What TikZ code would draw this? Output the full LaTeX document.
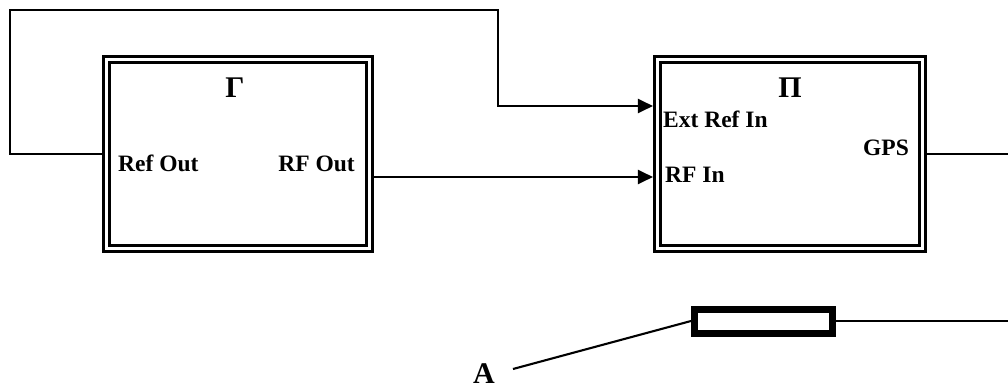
\documentclass[tikz,border=0pt]{standalone}
\usepackage{fontspec}
\setmainfont{Liberation Serif}
\usetikzlibrary{arrows.meta}
\tikzset{
  dbox/.style={draw, rectangle, line width=2.6pt, double, double distance=3.4pt, outer sep=4.3pt, inner sep=0pt},
  lbl/.style={inner sep=0pt, font=\fontsize{23.5}{28}\selectfont\bfseries},
  big/.style={inner sep=0pt, font=\fontsize{30}{34}\selectfont\bfseries},
  wire/.style={line width=2.1pt},
  arr/.style={wire, -{Triangle[length=15pt,width=14pt]}},
}
\begin{document}
\begin{tikzpicture}[x=1pt,y=-1pt]
\useasboundingbox (0,0) rectangle (1008,385);
\node[dbox, minimum width=263.5pt, minimum height=189.5pt] (g) at (238,154) {};
\node[dbox, minimum width=265.5pt, minimum height=189.5pt] (p) at (790,154) {};
\node[big, anchor=base] (gt) at (235,98) {Γ};
\node[big, anchor=base] (pt) at (790,98) {Π};
\node[lbl, anchor=base west] (refout) at (118,171) {Ref Out};
\node[lbl, anchor=base east] (rfout) at (355,171) {RF Out};
\node[lbl, anchor=base west] (extin) at (663,128) {Ext Ref In};
\node[lbl, anchor=base west] (rfin) at (665,182) {RF In};
\node[lbl, anchor=base east] (gps) at (909,155) {GPS};
\node[draw, rectangle, line width=7pt, minimum width=138pt, minimum height=24pt, inner sep=0pt, outer sep=3.5pt] (att) at (763.5,321) {};
\node[big, anchor=base west] (a) at (473,383) {A};
\coordinate (a1) at (513,369);
\coordinate (r1) at (1008,321);
\coordinate (r2) at (1008,154);
\draw[arr] (g.west) -| (10,10) -| (498,106) -- (p.west |- 0,106);
\draw[arr] (g.east |- 0,177) -- (p.west |- 0,177);
\draw[wire] (p.east) -- (r2);
\draw[wire] (a1) -- (att.west);
\draw[wire] (att.east) -- (r1);
\end{tikzpicture}
\end{document}
